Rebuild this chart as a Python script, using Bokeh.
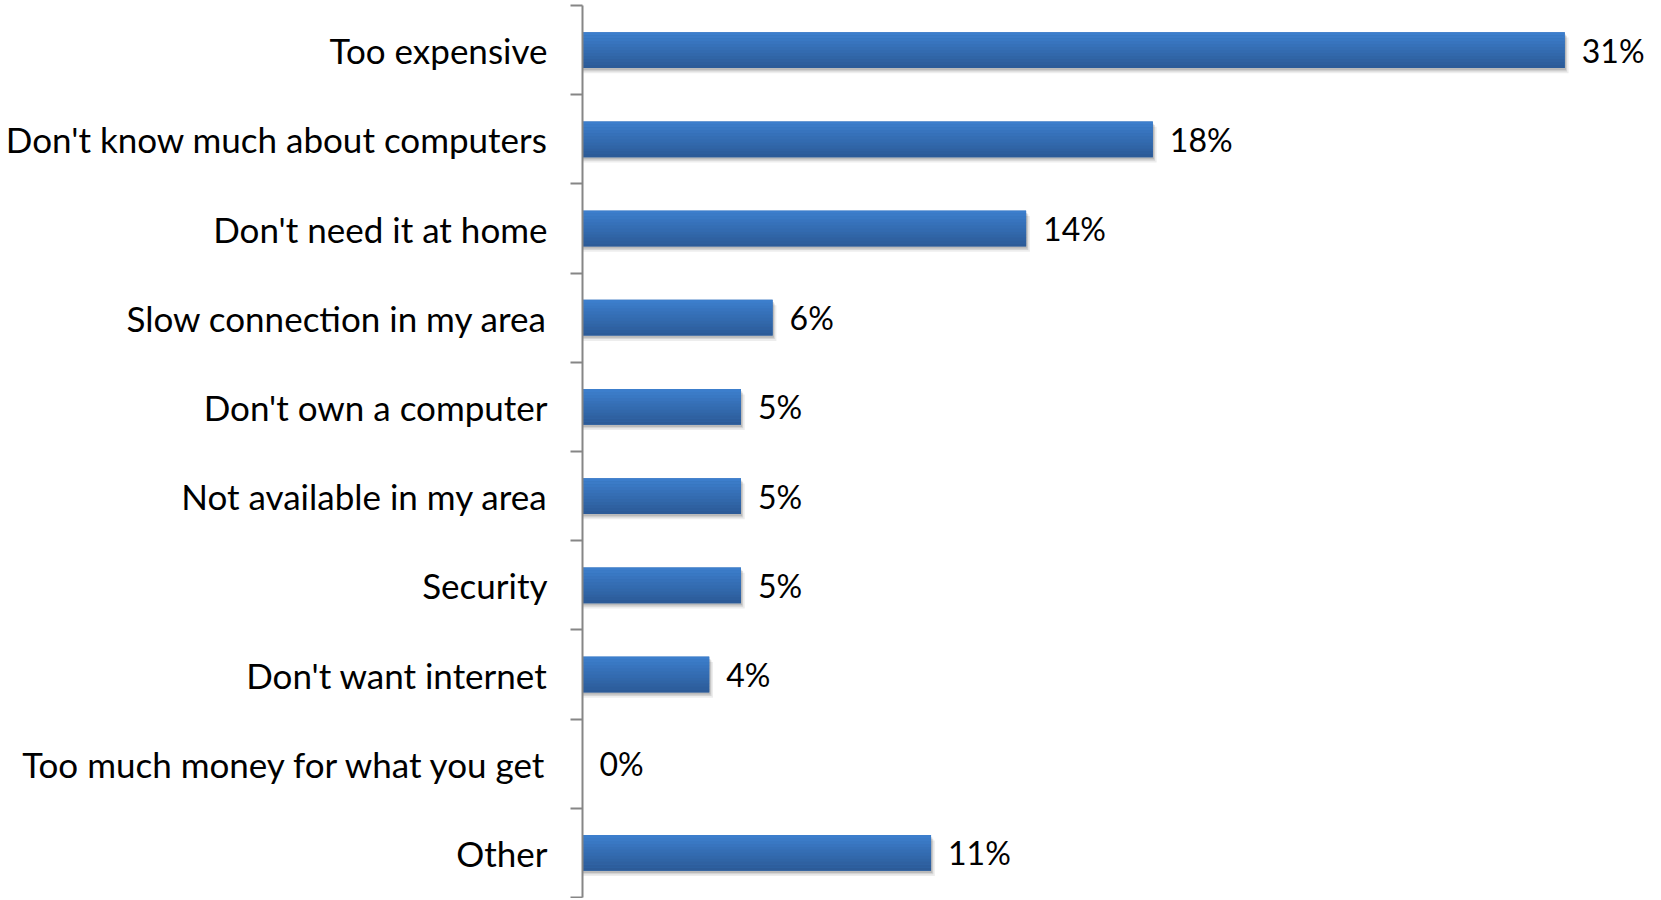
from bokeh.plotting import figure
from bokeh.models import Range1d, FixedTicker, ColumnDataSource
from bokeh.core.properties import value
from bokeh.embed import file_html
from bokeh.resources import INLINE

categories = [
    "Too expensive",
    "Don't know much about computers",
    "Don't need it at home",
    "Slow connection in my area",
    "Don't own a computer",
    "Not available in my area",
    "Security",
    "Don't want internet",
    "Too much money for what you get",
    "Other",
]
values = [31, 18, 14, 6, 5, 5, 5, 4, 0, 11]
value_labels = [f"{v}%" for v in values]

FONT = "Lato"

n = len(categories)
idx = list(range(n))

p = figure(
    frame_width=1071, frame_height=892,
    x_range=Range1d(0, 33.8), y_range=Range1d(n - 0.5, -0.5),
    x_axis_type=None, output_backend="svg", toolbar_location=None,
    min_border_left=582, min_border_right=0, min_border_top=5, min_border_bottom=1,
)
p.outline_line_color = None
p.xgrid.visible = False
p.ygrid.visible = False
p.background_fill_color = "white"
p.border_fill_color = "white"

ax = p.yaxis[0]
ax.ticker = FixedTicker(ticks=idx, minor_ticks=[i - 0.5 for i in range(n + 1)])
ax.major_label_overrides = {i: c for i, c in enumerate(categories)}
ax.major_tick_out = 0
ax.major_tick_in = 0
ax.minor_tick_out = 12
ax.minor_tick_in = 0
ax.minor_tick_line_color = "#868686"
ax.minor_tick_line_width = 2
ax.axis_line_color = "#868686"
ax.axis_line_width = 2
ax.major_label_text_font = FONT
ax.major_label_text_font_size = "35px"
ax.major_label_text_color = "#000000"
ax.major_label_standoff = 23

H = 0.40
src = ColumnDataSource(dict(y=idx, v=values, lab=value_labels))

# soft shadow
for dy, dx, a in [(0.06, 0.12, 0.07), (0.04, 0.07, 0.10), (0.025, 0.04, 0.12)]:
    p.hbar(y=[i + dy for i in idx], left=0, right=[v + dx if v > 0 else 0 for v in values],
           height=H, fill_color="#000000", fill_alpha=a, line_color=None)

# base bar
p.hbar(y="y", left=0, right="v", height=H, source=src, fill_color="#3570B8", line_color=None)

# vertical gradient slices
top = (60, 126, 204)
bot = (44, 91, 152)
ns = 12
for k in range(ns):
    t = k / (ns - 1)
    col = "#%02x%02x%02x" % tuple(int(round(top[j] + (bot[j] - top[j]) * t)) for j in range(3))
    off = -H / 2 + (k + 0.5) * H / ns
    p.hbar(y=[i + off for i in idx], left=0, right=values, height=H / ns * 1.05,
           fill_color=col, line_color=None)

p.text(x="v", y="y", text="lab", source=src, x_offset=17, text_baseline="middle",
       text_align="left", text_font=value(FONT), text_font_size="32px", text_color="#000000")

open("out.html", "w").write(file_html(p, INLINE))
